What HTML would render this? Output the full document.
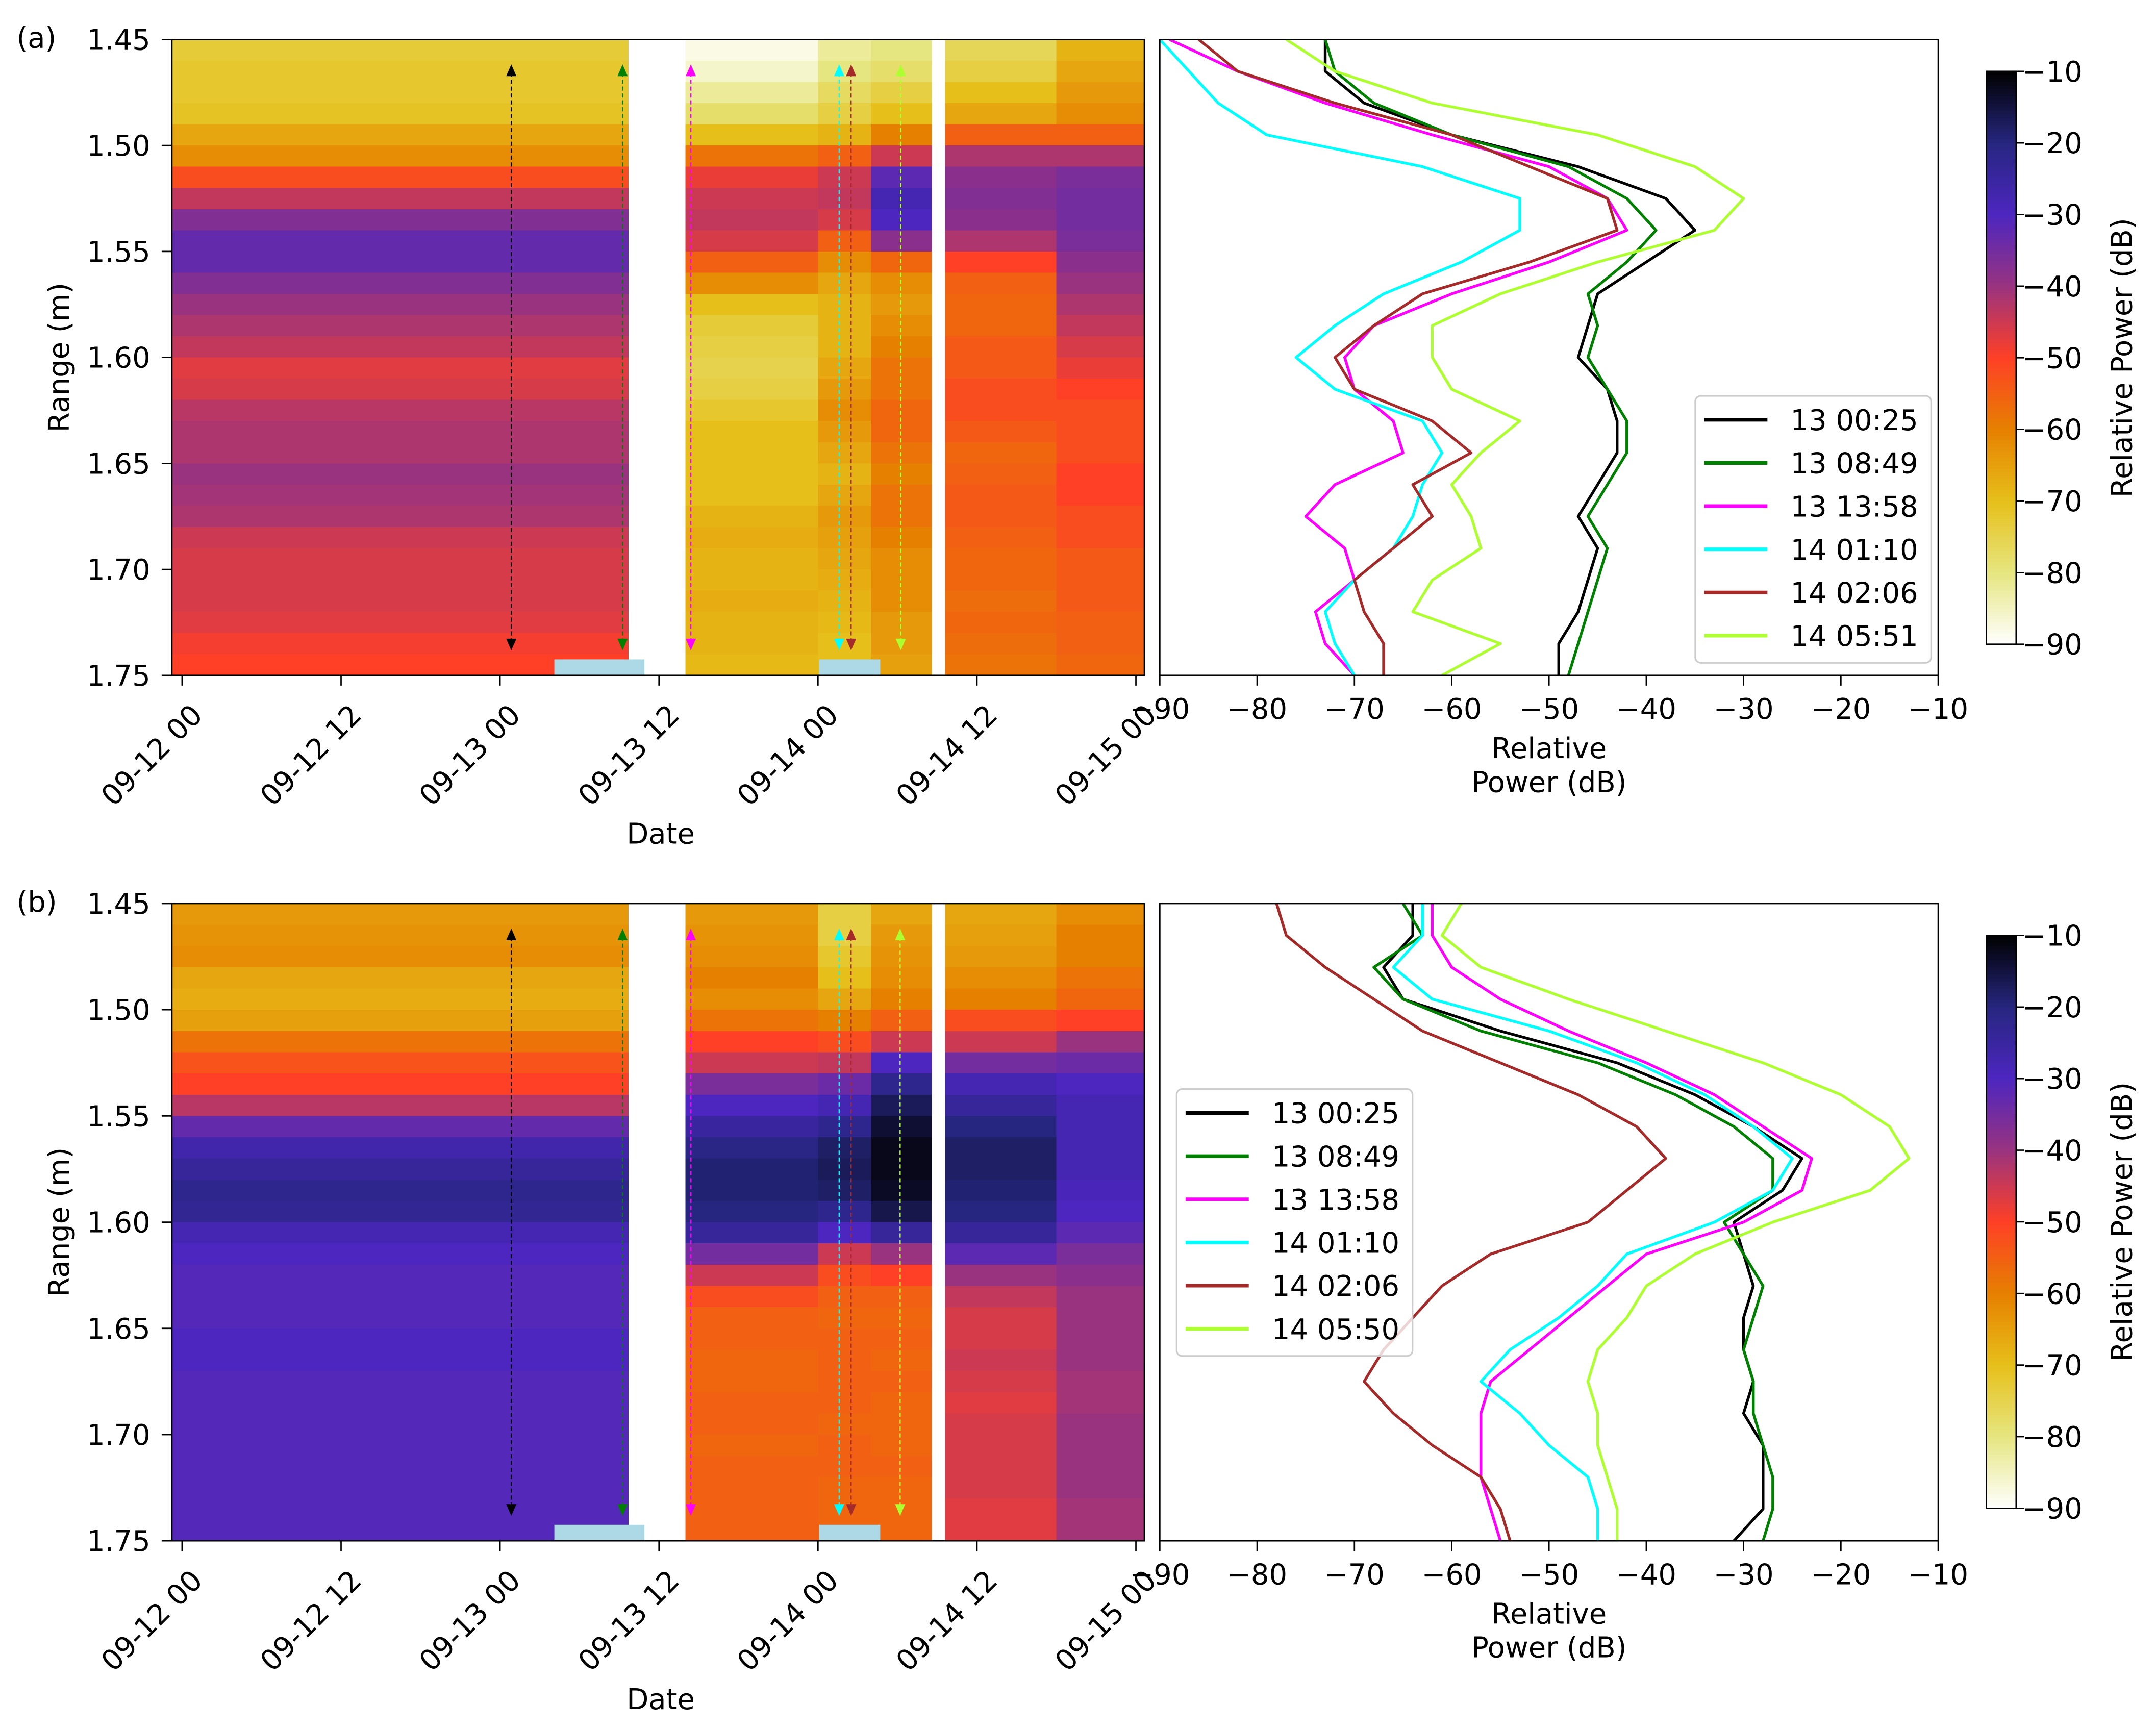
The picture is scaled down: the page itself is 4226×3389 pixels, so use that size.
<!DOCTYPE html>
<html><head><meta charset="utf-8"><title>Range-power heatmaps and profiles</title>
<style>
html,body{margin:0;padding:0;background:#fff;}
svg{display:block;}
text{font-family:"DejaVu Sans","Liberation Sans",sans-serif;fill:#000;}
</style></head>
<body>
<svg id="fig" xmlns="http://www.w3.org/2000/svg" width="4226" height="3389" viewBox="0 0 1563 1253.4"></svg>
<script>
// ---------------- DATA ----------------
// Heatmap range bins: 30 bins of 0.01 m from 1.45 to 1.75
const binStart = 1.45, binStep = 0.01, binCount = 30;
// Segment times (hours since 09-12 00:00)
const segStartA = [-0.8, 38.0, 48.0, 52.0, 57.6, 66.0];
const segEndA   = [33.7, 48.0, 52.0, 56.6, 66.0, 72.6];
const profA1 = [-73,-72,-72,-71,-66,-62,-52,-44,-37,-33,-33,-37,-40,-42,-44,-47,-46,-43,-42,-42,-40,-41,-42,-45,-46,-46,-46,-47,-49,-50];
const profA2 = [-88,-86,-82,-78,-70,-58,-48,-45,-44,-46,-55,-62,-70,-73,-74,-75,-74,-72,-70,-70,-70,-70,-68,-67,-68,-68,-67,-68,-68,-69];
const profA3 = [-82,-80,-77,-74,-68,-55,-45,-44,-46,-55,-62,-66,-68,-68,-68,-66,-64,-62,-64,-66,-68,-66,-64,-65,-66,-67,-68,-69,-70,-70];
const profA4 = [-80,-78,-74,-70,-60,-45,-32,-28,-30,-38,-56,-62,-64,-62,-60,-58,-58,-56,-56,-58,-60,-58,-58,-60,-62,-62,-62,-64,-64,-65];
const profA5 = [-76,-74,-70,-66,-55,-42,-38,-37,-38,-42,-50,-55,-56,-56,-54,-54,-52,-52,-54,-56,-55,-54,-54,-55,-56,-56,-57,-56,-57,-58];
const profA6 = [-68,-66,-64,-62,-55,-42,-36,-35,-35,-36,-38,-40,-42,-44,-46,-48,-50,-52,-52,-52,-50,-50,-52,-52,-54,-54,-54,-55,-55,-56];
const segStartB = [-0.8, 38.0, 48.0, 52.0, 57.6, 66.0];
const segEndB   = [33.7, 48.0, 52.0, 56.6, 66.0, 72.6];
const profB1 = [-64,-63,-62,-66,-67,-65,-58,-53,-50,-43,-33,-27,-24,-22,-23,-28,-30,-31,-31,-31,-30,-30,-31,-31,-31,-31,-31,-31,-31,-31];
const profB2 = [-64,-63,-62,-60,-62,-58,-50,-45,-36,-30,-25,-21,-19,-19,-20,-24,-35,-45,-52,-55,-55,-56,-56,-55,-55,-56,-55,-55,-55,-55];
const profB3 = [-74,-74,-72,-70,-66,-60,-52,-44,-34,-28,-22,-18,-17,-18,-22,-30,-45,-52,-55,-56,-55,-55,-55,-55,-56,-55,-55,-56,-56,-56];
const profB4 = [-66,-64,-63,-62,-60,-55,-45,-30,-22,-17,-14,-12,-12,-13,-16,-24,-40,-50,-55,-56,-55,-56,-55,-56,-56,-56,-55,-56,-56,-56];
const profB5 = [-66,-65,-64,-62,-60,-52,-45,-35,-28,-24,-20,-18,-18,-19,-20,-24,-32,-40,-44,-46,-46,-45,-46,-47,-46,-46,-46,-46,-47,-47];
const profB6 = [-62,-60,-60,-58,-56,-50,-40,-34,-30,-28,-28,-28,-28,-29,-30,-32,-36,-38,-40,-40,-40,-40,-41,-41,-40,-40,-40,-40,-41,-41];
// Light-blue bars (hours)
const boxStart = [28.1, 48.1];
const boxEnd   = [34.9, 52.7];
// Profile times (arrow positions, hours) and labels
const arrowHoursA = [24.85, 33.25, 38.4, 49.6, 50.5, 54.25];
const arrowHoursB = [24.85, 33.25, 38.4, 49.6, 50.5, 54.2];
const labelsA = ["13 00:25","13 08:49","13 13:58","14 01:10","14 02:06","14 05:51"];
const labelsB = ["13 00:25","13 08:49","13 13:58","14 01:10","14 02:06","14 05:50"];
const seriesColors = ["#000000","#008000","#ff00ff","#00ffff","#a52a2a","#adff2f"];
// Profile ranges (m)
const rng = [1.45,1.465,1.48,1.495,1.51,1.525,1.54,1.555,1.57,1.585,1.60,1.615,1.63,1.645,1.66,1.675,1.69,1.705,1.72,1.735,1.75];
// Panel (a) profiles dB
const a_black = [-73,-73,-69,-60,-47,-38,-35,-40,-45,-46,-47,-44,-43,-43,-45,-47,-45,-46,-47,-49,-49];
const a_green = [-73,-72,-68,-60,-48,-42,-39,-42,-46,-45,-46,-44,-42,-42,-44,-46,-44,-45,-46,-47,-48];
const a_magenta = [-89,-82,-73,-62,-50,-44,-42,-50,-60,-68,-71,-70,-66,-65,-72,-75,-71,-70,-74,-73,-70];
const a_cyan = [-90,-87,-84,-79,-63,-53,-53,-59,-67,-72,-76,-72,-63,-61,-63,-64,-66,-70,-73,-72,-70];
const a_brown = [-86,-82,-72,-60,-52,-44,-43,-52,-63,-68,-72,-70,-62,-58,-64,-62,-66,-70,-69,-67,-67];
const a_lime = [-77,-72,-62,-45,-35,-30,-33,-45,-55,-62,-62,-60,-53,-57,-60,-58,-57,-62,-64,-55,-61];
// Panel (b) profiles dB
const b_black = [-64,-64,-67,-65,-55,-43,-35,-29,-24,-26,-31,-30,-29,-30,-30,-29,-30,-28,-28,-28,-31];
const b_green = [-65,-63,-68,-65,-57,-45,-37,-31,-27,-27,-32,-30,-28,-29,-30,-29,-29,-28,-27,-27,-28];
const b_magenta = [-62,-62,-60,-55,-48,-40,-33,-28,-23,-24,-30,-40,-44,-48,-52,-56,-57,-57,-57,-56,-55];
const b_cyan = [-63,-63,-66,-62,-50,-41,-34,-29,-25,-27,-33,-42,-45,-49,-54,-57,-53,-50,-46,-45,-45];
const b_brown = [-78,-77,-73,-68,-63,-55,-47,-41,-38,-42,-46,-56,-61,-64,-67,-69,-66,-62,-57,-55,-54];
const b_lime = [-59,-61,-57,-48,-38,-28,-20,-15,-13,-17,-27,-35,-40,-42,-45,-46,-45,-45,-44,-43,-43];
// Tick labels
const timeTickHours = [0,12,24,36,48,60,72];
const timeTickLabels = ["09-12 00","09-12 12","09-13 00","09-13 12","09-14 00","09-14 12","09-15 00"];
const rangeTicks = [1.45,1.50,1.55,1.60,1.65,1.70,1.75];
const powerTicks = [-90,-80,-70,-60,-50,-40,-30,-20,-10];

// ---------------- RENDER ----------------
const NS = "http://www.w3.org/2000/svg";
const svg = document.getElementById('fig');
function mk(tag, attrs, parent){ const e=document.createElementNS(NS,tag); for(const k in attrs) e.setAttribute(k,attrs[k]); (parent||svg).appendChild(e); return e; }
const FS = 20.7;

// CMRmap reversed
const cmr = [[0,0,0],[0.15,0.15,0.5],[0.3,0.15,0.75],[0.6,0.2,0.5],[1,0.25,0.15],[0.9,0.5,0],[0.9,0.75,0.1],[0.9,0.9,0.5],[1,1,1]];
function cmap(v){
  let p = (v + 90)/80; p = Math.max(0, Math.min(1, p)); p = 1 - p;
  const f = p*8; const i = Math.min(7, Math.floor(f)); const t = f - i;
  const c = cmr[i].map((a,k)=> Math.round(255*(a + (cmr[i+1][k]-a)*t)));
  return `rgb(${c[0]},${c[1]},${c[2]})`;
}

const X0H = 132, PXH = 9.604, HMX0 = 124.6, HMX1 = 829.6;
const LX0 = 840.8, LX1 = 1405.1;
const xh = h => X0H + h*PXH;
const xdB = d => LX0 + (d + 90)/80*(LX1-LX0);

function panel(p){
  const top = p.top, bot = p.bot;
  const yr = r => top + (r - 1.45)/0.3*(bot-top);
  const g = mk('g', {});
  
  

  // heatmap
  const hm = mk('g', {'shape-rendering':'crispEdges'}, g);
  
  
  for (let s=0; s<p.segStart.length; s++){
    const xa = Math.max(HMX0, xh(p.segStart[s])), xb = Math.min(HMX1, xh(p.segEnd[s]));
    for (let i=0; i<binCount; i++){
      const r0 = binStart + i*binStep;
      const ya = yr(r0), yb = yr(r0 + binStep);
      const c = mk('rect', {x:xa, y:ya, width:xb-xa, height:yb-ya+0.4, fill:cmap(p.profiles[s][i])}, hm);
      
      
    }
  }
  // light blue boxes
  for (let b=0; b<boxStart.length; b++){
    const r = mk('rect', {x:xh(boxStart[b]), y:bot-11.6, width:xh(boxEnd[b])-xh(boxStart[b]), height:11.6, fill:'#add8e6'}, g);
    
    
  }
  // arrows
  const ayTop = top + 18.1, ayBot = bot - 18.1;
  for (let k=0; k<p.arrowHours.length; k++){
    const ax = xh(p.arrowHours[k]); const col = seriesColors[k];
    const ag = mk('g', {}, g);
    
    
    mk('line', {x1:ax, y1:ayTop+6, x2:ax, y2:ayBot-6, stroke:col, 'stroke-width':0.9, 'stroke-dasharray':'3,2'}, ag);
    mk('polygon', {points:`${ax},${ayTop} ${ax-3.7},${ayTop+8.5} ${ax+3.7},${ayTop+8.5}`, fill:col}, ag);
    mk('polygon', {points:`${ax},${ayBot} ${ax-3.7},${ayBot-8.5} ${ax+3.7},${ayBot-8.5}`, fill:col}, ag);
  }
  // heatmap frame
  const fr = mk('rect', {x:HMX0, y:top, width:HMX1-HMX0, height:bot-top, fill:'none', stroke:'#000', 'stroke-width':1}, g);
  
  
  // y ticks
  for (const r of rangeTicks){
    const y = yr(r);
    mk('line', {x1:HMX0-7.4, y1:y, x2:HMX0, y2:y, stroke:'#000', 'stroke-width':1}, g);
    const t = mk('text', {x:109, y:y+7.4, 'text-anchor':'end', 'font-size':FS}, g);
    t.textContent = r.toFixed(2);
    
    
  }
  const yl = mk('text', {x:0, y:0, 'text-anchor':'middle', 'font-size':FS, transform:`translate(50,${(top+bot)/2}) rotate(-90)`}, g);
  yl.textContent = 'Range (m)';
  
  
  // x ticks (time)
  for (let k=0; k<timeTickHours.length; k++){
    const x = xh(timeTickHours[k]);
    mk('line', {x1:x, y1:bot, x2:x, y2:bot+7.4, stroke:'#000', 'stroke-width':1}, g);
    const t = mk('text', {x:0, y:0, 'text-anchor':'end', 'font-size':FS, transform:`translate(${x+16},${bot+30}) rotate(-45)`}, g);
    t.textContent = timeTickLabels[k];
    
    
  }
  const xl = mk('text', {x:479, y:bot+122, 'text-anchor':'middle', 'font-size':FS}, g);
  xl.textContent = 'Date';
  
  
  // panel label
  const pl = mk('text', {x:12, y:top+6, 'font-size':FS}, g);
  pl.textContent = '(' + p.key + ')';
  
  

  // line plot
  const lp = mk('g', {}, g);
  
  
  const clipId = 'clip' + p.key;
  const cp = mk('clipPath', {id:clipId}, lp);
  mk('rect', {x:LX0, y:top, width:LX1-LX0, height:bot-top}, cp);
  const lines = mk('g', {'clip-path':`url(#${clipId})`}, lp);
  for (let k=0; k<p.series.length; k++){
    const pts = p.series[k].map((d,i)=> xdB(d).toFixed(2)+','+yr(rng[i]).toFixed(2)).join(' ');
    const pl2 = mk('polyline', {points:pts, fill:'none', stroke:seriesColors[k], 'stroke-width':2, 'stroke-linejoin':'round'}, lines);
    
    
  }
  mk('rect', {x:LX0, y:top, width:LX1-LX0, height:bot-top, fill:'none', stroke:'#000', 'stroke-width':1}, lp);
  for (const d of powerTicks){
    const x = xdB(d);
    mk('line', {x1:x, y1:bot, x2:x, y2:bot+7.4, stroke:'#000', 'stroke-width':1}, lp);
    const t = mk('text', {x:x, y:bot+31.5, 'text-anchor':'middle', 'font-size':FS}, lp);
    t.textContent = '\u2212' + Math.abs(d);
    
    
  }
  const t1 = mk('text', {x:1123, y:bot+60, 'text-anchor':'middle', 'font-size':FS}, lp);
  t1.textContent = 'Relative';
  
  
  const t2 = mk('text', {x:1123, y:bot+84.5, 'text-anchor':'middle', 'font-size':FS}, lp);
  t2.textContent = 'Power (dB)';
  
  

  // legend
  const lg = mk('g', {}, lp);
  
  
  mk('rect', {x:p.legX, y:p.legY, width:171, height:193.5, rx:4, fill:'#fff', 'fill-opacity':0.8, stroke:'#cccccc', 'stroke-width':1.2}, lg);
  for (let k=0; k<p.labels.length; k++){
    const y = p.legY + 17.3 + k*31.3;
    const e = mk('g', {}, lg);
    
    
    mk('line', {x1:p.legX+6.5, y1:y, x2:p.legX+52.3, y2:y, stroke:seriesColors[k], 'stroke-width':2.6}, e);
    const tt = mk('text', {x:p.legX+69, y:y+7.5, 'font-size':FS}, e);
    tt.textContent = p.labels[k];
  }

  // colorbar
  const cb = mk('g', {}, g);
  
  
  const cbT = p.cbTop, cbB = p.cbTop + 415.3, cbX0 = 1440, cbX1 = 1461.6;
  const N = 160;
  const cbs = mk('g', {'shape-rendering':'crispEdges'}, cb);
  for (let i=0; i<N; i++){
    const v = -10 - (i+0.5)/N*80;
    mk('rect', {x:cbX0, y:cbT + i*(cbB-cbT)/N, width:cbX1-cbX0, height:(cbB-cbT)/N+0.5, fill:cmap(v)}, cbs);
  }
  mk('rect', {x:cbX0, y:cbT, width:cbX1-cbX0, height:cbB-cbT, fill:'none', stroke:'#000', 'stroke-width':1}, cb);
  for (const d of powerTicks){
    const y = cbT + (-10 - d)/80*(cbB-cbT);
    mk('line', {x1:cbX1, y1:y, x2:cbX1+6, y2:y, stroke:'#000', 'stroke-width':1}, cb);
    const t = mk('text', {x:1466, y:y+7.4, 'font-size':FS}, cb);
    t.textContent = '\u2212' + Math.abs(d);
    
    
  }
  const cl = mk('text', {x:0, y:0, 'text-anchor':'middle', 'font-size':FS, transform:`translate(1545.5,${(cbT+cbB)/2}) rotate(-90)`}, cb);
  cl.textContent = 'Relative Power (dB)';
  
  
}

panel({key:'a', top:28.6, bot:489.6, segStart:segStartA, segEnd:segEndA,
  profiles:[profA1,profA2,profA3,profA4,profA5,profA6], arrowHours:arrowHoursA,
  series:[a_black,a_green,a_magenta,a_cyan,a_brown,a_lime], labels:labelsA,
  legX:1229, legY:287, cbTop:51.7});
panel({key:'b', top:655, bot:1117, segStart:segStartB, segEnd:segEndB,
  profiles:[profB1,profB2,profB3,profB4,profB5,profB6], arrowHours:arrowHoursB,
  series:[b_black,b_green,b_magenta,b_cyan,b_brown,b_lime], labels:labelsB,
  legX:853, legY:789.5, cbTop:678.1});
</script>
</body></html>
